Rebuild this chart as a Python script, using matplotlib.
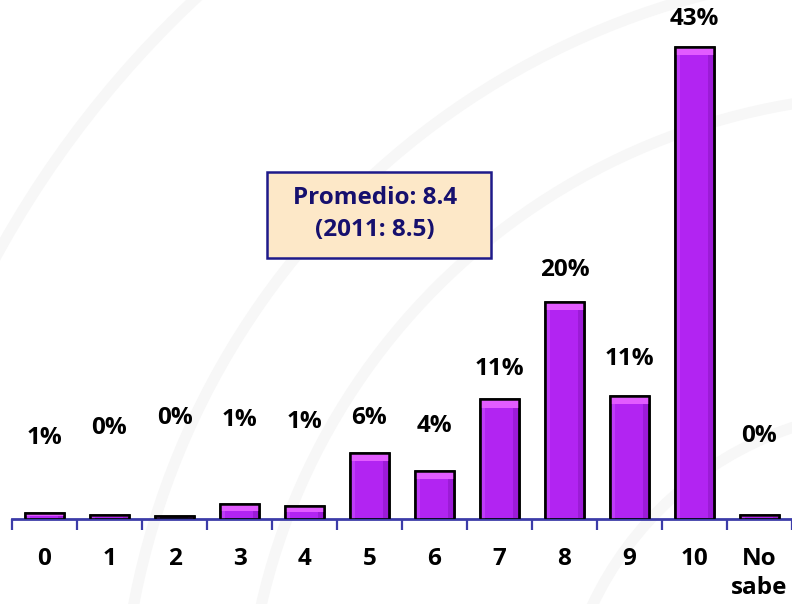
import matplotlib.pyplot as plt
import numpy as np
from matplotlib.patches import Rectangle, Arc

plt.rcParams['font.family'] = ['Open Sans', 'DejaVu Sans']
plt.rcParams['font.weight'] = 'bold'

# datos (porcentaje por calificación)
categorias = ['0', '1', '2', '3', '4', '5', '6', '7', '8', '9', '10', 'No\nsabe']
valores = [0.55, 0.4, 0.3, 1.4, 1.2, 6.0, 4.4, 10.9, 19.8, 11.2, 43.0, 0.4]
etiquetas = ['1%', '0%', '0%', '1%', '1%', '6%', '4%', '11%', '20%', '11%', '43%', '0%']
# altura donde va cada etiqueta (en unidades del eje)
pos_etiqueta = [7.4, 8.3, 9.2, 9.0, 8.8, 9.2, 8.5, 13.7, 22.7, 14.6, 45.6, 7.6]

fig = plt.figure(figsize=(7.92, 6.04), dpi=100)

# fondo: arcos grises tenues (marca de agua)
bg = fig.add_axes([0, 0, 1, 1], zorder=0)
bg.set_xlim(0, 792)
bg.set_ylim(604, 0)
bg.axis('off')
for r in [1030, 780, 655, 340]:
    bg.add_patch(Arc((900, 750), 2 * r, 2 * r, theta1=90, theta2=270,
                     color='#f7f7f7', lw=8))

ax = fig.add_axes([12 / 792, 85 / 604, 780 / 792, 518 / 604], zorder=1)
ax.patch.set_alpha(0)
x = np.arange(len(categorias))
v = np.array(valores)
ancho = 0.6

ax.bar(x, v, width=ancho, color='#b224f2', edgecolor='black', linewidth=1.8, zorder=2)
# sombra lateral derecha
ax.bar(x + ancho / 2 - 0.05, v, width=0.1, color='#7d0eb0', alpha=0.4, zorder=3)
# brillo lateral izquierdo
ax.bar(x - ancho / 2 + 0.04, v, width=0.08, color='#c84cff', alpha=0.6, zorder=3)
# brillo superior
alto_brillo = np.minimum(0.75, v * 0.45)
ax.bar(x, alto_brillo, bottom=v - alto_brillo, width=ancho,
       color='#e25cff', zorder=3)
ax.bar(x, v, width=ancho, fill=False, edgecolor='black', linewidth=1.8, zorder=4)

for xi, yi, t in zip(x, pos_etiqueta, etiquetas):
    ax.text(xi, yi, t, ha='center', va='center', fontsize=17.5,
            fontweight='bold', color='black')

ax.set_xlim(-0.5, len(categorias) - 0.5)
ax.set_ylim(0, 47.2)
for s in ['top', 'right', 'left']:
    ax.spines[s].set_visible(False)
ax.spines['bottom'].set_color('#3c3ca8')
ax.spines['bottom'].set_linewidth(2)
ax.set_yticks([])
ax.set_xticks(np.arange(-0.5, len(categorias)), labels=[])
ax.tick_params(axis='x', which='major', direction='out', length=8, width=1.6,
               color='#3c3ca8')
ax.set_xticks(x, minor=True)
ax.set_xticklabels(categorias, minor=True, fontsize=17.5, fontweight='bold',
                   va='top', linespacing=1.3)
ax.tick_params(axis='x', which='minor', length=0, pad=20)

# recuadro del promedio
fig.patches.append(Rectangle((267 / 792, (604 - 258) / 604), 224 / 792, 86 / 604,
                             transform=fig.transFigure, facecolor='#fde8c8',
                             edgecolor='#1e1a8a', linewidth=1.8, zorder=5))
fig.text(375 / 792, (604 - 214) / 604, 'Promedio: 8.4\n(2011: 8.5)', ha='center',
         va='center', fontsize=17.5, fontweight='bold', color='#16106e',
         linespacing=1.45, zorder=6)

plt.savefig('out.png', dpi=100)
